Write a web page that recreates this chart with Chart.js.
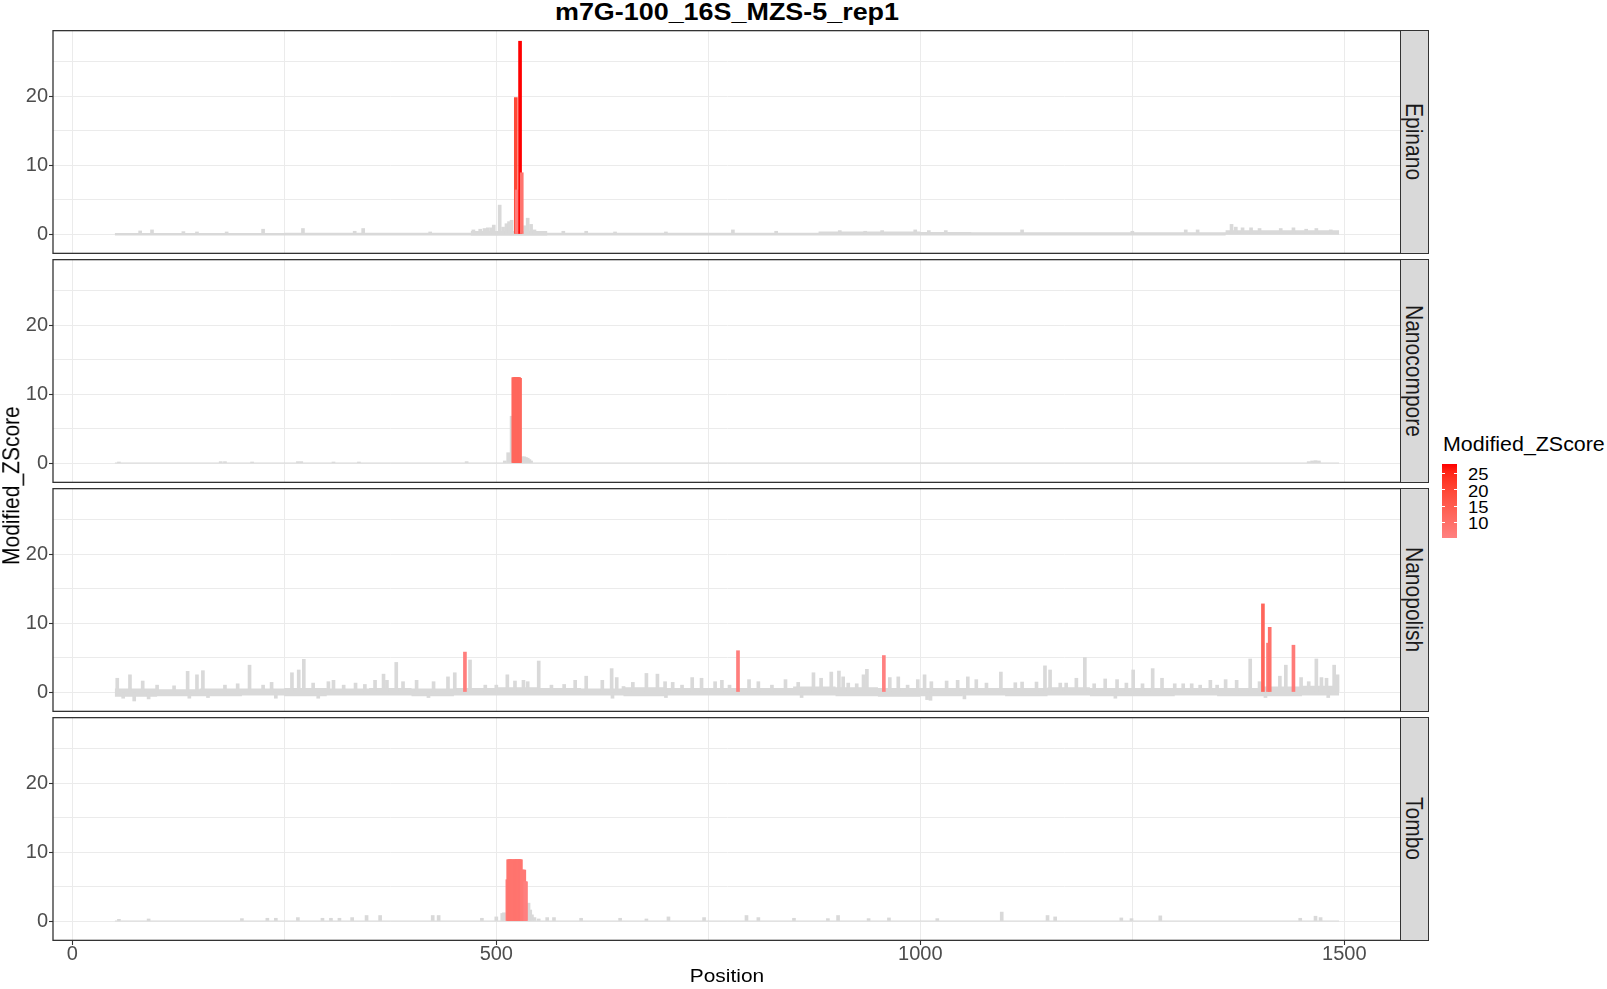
<!DOCTYPE html>
<html><head><meta charset="utf-8">
<script src="https://cdn.jsdelivr.net/npm/chart.js@4.4.1/dist/chart.umd.min.js"></script>
<style>
html,body{margin:0;padding:0;background:#fff;}
body{width:1607px;height:989px;position:relative;overflow:hidden;font-family:"Liberation Sans",Arial,sans-serif;}
canvas{position:absolute;left:0;}
.strip{position:absolute;left:1400px;width:28.5px;background:#d9d9d9;border:1.3px solid #333;box-sizing:border-box;display:flex;align-items:center;justify-content:center;}
.strip span{writing-mode:vertical-rl;font-size:21px;color:#1a1a1a;transform:scaleX(1.1);white-space:nowrap;}
.txt{position:absolute;white-space:nowrap;line-height:1;}
</style></head><body>
<script>
// ---------------- data ----------------
const panelNames = ['Epinano', 'Nanocompore', 'Nanopolish', 'Tombo'];
const xTickLabels = [0, 500, 1000, 1500];
const yTickLabels = [0, 10, 20];
const legendTicks = [10, 15, 20, 25];

// Epinano
const epiBandX  = [50, 250, 470, 560, 880, 1000, 1060, 1360, 1494];
const epiBandHi = [0.15, 0.2, 0.45, 0.2, 0.35, 0.3, 0.25, 0.55];
const epiBandLo = [-0.2, -0.2, -0.25, -0.2, -0.2, -0.2, -0.2, -0.1];
const epiGrayPos = [80, 94, 131, 147, 182, 225, 272, 333, 343, 422,
  473, 481, 486, 490, 494, 497, 504, 508, 512, 515,
  518, 534, 537, 541, 545, 579, 606, 640, 700, 779,
  830, 905, 935, 955, 994, 1010, 1030, 1120, 1250, 1313,
  1327, 1367, 1372, 1380, 1390, 1400, 1425, 1440, 1455, 1467, 1484];
const epiGrayVal = [0.45, 0.6, 0.35, 0.3, 0.3, 0.7, 0.8, 0.4, 0.8, 0.3,
  0.6, 0.7, 0.8, 0.9, 0.9, 1.3, 4.2, 1.0, 1.5, 1.8,
  2.0, 1.2, 2.3, 1.4, 0.6, 0.4, 0.4, 0.3, 0.3, 0.6,
  0.4, 0.5, 0.4, 0.5, 0.6, 0.5, 0.5, 0.6, 0.4, 0.6,
  0.6, 1.4, 1.0, 0.9, 0.9, 0.8, 0.8, 0.9, 0.7, 0.8, 0.6];
const epiSigPos = [523, 524, 528, 530];
const epiSigVal = [19.8, 6.4, 28.0, 8.9];

// Nanocompore
const ncBandX  = [50, 1494];
const ncBandHi = [0.08];
const ncBandLo = [-0.08];
const ncGrayPos = [55, 175, 180, 212, 266, 270, 308, 338, 465, 510,
  514, 518, 531, 533, 535, 537, 539, 541, 1458, 1462, 1466, 1470];
const ncGrayVal = [0.15, 0.2, 0.2, 0.15, 0.2, 0.2, 0.15, 0.15, 0.2, 0.3,
  1.5, 6.8, 0.9, 0.9, 0.8, 0.7, 0.5, 0.3, 0.2, 0.3, 0.35, 0.3];
const ncSigPos = [520, 521, 522, 523, 524, 525, 526, 527, 528];
const ncSigVal = [12.4, 12.4, 12.4, 12.4, 12.4, 12.4, 12.4, 12.4, 12.3];

// Nanopolish
const npBandX = [50, 100, 150, 200, 250, 300, 350, 400, 450, 500, 550, 600, 650, 700, 750,
  800, 850, 900, 950, 1000, 1050, 1100, 1150, 1200, 1250, 1300, 1350, 1400, 1450, 1494];
const npBandHi = [0.5, 0.4, 0.5, 0.5, 0.6, 0.5, 0.6, 0.5, 0.6, 0.7, 0.6, 0.5, 0.7, 0.6, 0.6,
  0.6, 0.8, 0.7, 0.6, 0.6, 0.6, 0.6, 0.7, 0.6, 0.6, 0.6, 0.6, 0.8, 0.9];
const npBandLo = [-0.7, -0.6, -0.6, -0.5, -0.6, -0.5, -0.5, -0.6, -0.5, -0.5, -0.5, -0.5, -0.6, -0.5, -0.5,
  -0.5, -0.5, -0.6, -0.7, -0.6, -0.5, -0.6, -0.5, -0.6, -0.6, -0.5, -0.6, -0.6, -0.5];
const npGrayPos = [53, 60, 68, 73, 83, 90, 100, 120, 136, 138,
  147, 154, 160, 180, 195, 209, 225, 235, 240, 259,
  267, 273, 284, 290, 302, 308, 320, 334, 345, 357,
  367, 371, 382, 390, 406, 420, 426, 443, 451, 469,
  487, 500, 513, 522, 532, 537, 550, 565, 580, 593,
  606, 625, 636, 637, 642, 650, 661, 677, 690, 699,
  700, 708, 719, 731, 742, 758, 766, 775, 798, 809,
  825, 841, 856, 860, 874, 883, 895, 904, 909, 915,
  925, 933, 937, 964, 974, 985, 997, 1005, 1008, 1012,
  1013, 1031, 1044, 1052, 1056, 1066, 1078, 1095, 1112, 1120,
  1137, 1147, 1153, 1165, 1172, 1184, 1194, 1205, 1218, 1230,
  1232, 1243, 1251, 1262, 1274, 1285, 1300, 1310, 1320, 1330,
  1342, 1350, 1360, 1373, 1389, 1400, 1407, 1424, 1431, 1449,
  1458, 1467, 1473, 1479, 1481, 1488, 1492];
const npGrayVal = [2.0, -0.9, 2.5, -1.3, 1.6, -1.0, 1.0, 0.9, 3.0, -0.9,
  2.5, 3.1, -0.8, 1.0, 1.2, 3.9, 1.0, 1.4, -0.9, 2.8,
  3.2, 4.75, 1.3, -0.9, 1.5, 1.7, 1.0, 1.3, 1.1, 1.7,
  2.6, 1.7, 4.3, 1.5, 1.7, -0.8, 1.5, 2.2, 2.8, 4.65,
  1.0, 1.0, 2.5, 1.6, 1.7, 1.5, 4.5, 1.0, 1.1, 1.7,
  2.3, 1.7, 3.4, -0.9, 2.1, 0.8, 1.4, 2.7, 2.6, 1.5,
  -0.8, 1.4, 1.0, 2.1, 2.0, 1.5, 1.7, 1.0, 1.8, 1.5,
  1.0, 1.8, 1.4, -0.8, 2.8, 2.0, 2.9, 3.05, 2.2, 1.3,
  1.2, 2.5, 3.3, 2.1, 2.2, 1.0, 1.8, 2.5, -1.1, -1.2,
  1.5, 1.6, 1.7, -1.0, 2.2, 1.8, 1.3, 2.9, 1.35, 1.45,
  1.45, 3.8, 3.2, 1.3, 1.3, 2.0, 5.0, 1.2, 1.9, -0.9,
  1.8, 1.3, 3.2, 1.2, 3.4, 2.0, 1.2, 1.2, 1.2, 1.0,
  1.7, 1.0, 1.8, 1.7, 4.8, 1.5, -0.8, 2.3, 3.9, 2.1,
  1.5, 4.8, 2.1, 2.0, -0.8, 3.9, 2.5];
const npSigPos = [463, 785, 957, 1404, 1410, 1412, 1440];
const npSigVal = [5.8, 6.0, 5.3, 12.8, 7.1, 9.4, 6.8];

// Tombo
const tbBandX  = [50, 1494];
const tbBandHi = [0.08];
const tbBandLo = [-0.08];
const tbGrayPos = [55, 90, 200, 230, 240, 266, 295, 305, 315, 330,
  347, 363, 425, 432, 483, 500, 507, 509, 538, 540,
  542, 545, 550, 560, 568, 600, 646, 677, 703, 745,
  795, 809, 851, 891, 903, 939, 963, 1020, 1096, 1150,
  1159, 1237, 1249, 1283, 1448, 1466, 1472];
const tbGrayVal = [0.25, 0.3, 0.35, 0.4, 0.4, 0.5, 0.4, 0.4, 0.4, 0.5,
  0.8, 0.8, 0.8, 0.8, 0.4, 0.6, 1.1, 1.2, 2.6, 1.6,
  0.9, 0.5, 0.3, 0.5, 0.5, 0.4, 0.4, 0.3, 0.6, 0.5,
  0.8, 0.5, 0.4, 0.35, 0.8, 0.35, 0.45, 0.35, 1.3, 0.8,
  0.6, 0.45, 0.35, 0.75, 0.4, 0.7, 0.5];
const tbSigPos = [513, 514, 515, 516, 517, 518, 519, 520, 521, 522, 523, 524,
  525, 526, 527, 528, 529, 530, 531, 532, 533, 534, 535];
const tbSigVal = [6.0, 8.9, 8.9, 8.9, 8.9, 8.9, 8.9, 8.5, 8.9, 8.9, 8.9, 8.9,
  8.9, 8.9, 8.9, 8.9, 8.9, 7.4, 7.4, 7.4, 7.4, 5.7, 5.7];

// ---------------- layout / style ----------------
const GRAY = '#d9d9d9';
const LOW_COL = [255, 128, 128], HIGH_COL = [255, 0, 0];
const PANEL_TOPS = [30, 259, 488, 717], PANEL_H = 224, CANVAS_W = 1402, AXIS_W = 53;
const X_MIN = -22.76, X_MAX = 1568.0, Y_MIN = -2.9, Y_MAX = 29.63;

const allSig = [].concat(epiSigVal, ncSigVal, npSigVal, tbSigVal);
const SIG_MIN = Math.min(...allSig), SIG_MAX = Math.max(...allSig);

function toLin(c){c/=255;return c<=0.04045?c/12.92:Math.pow((c+0.055)/1.055,2.4);}
function toS(c){const v=c<=0.0031308?12.92*c:1.055*Math.pow(c,1/2.4)-0.055;return Math.round(Math.max(0,Math.min(1,v))*255);}
function rgb2lab(c){const R=toLin(c[0]),G=toLin(c[1]),B=toLin(c[2]);
  const X=(0.4124*R+0.3576*G+0.1805*B)/0.95047,Y=0.2126*R+0.7152*G+0.0722*B,Z=(0.0193*R+0.1192*G+0.9505*B)/1.08883;
  const f=t=>t>0.008856?Math.cbrt(t):7.787*t+16/116; const fx=f(X),fy=f(Y),fz=f(Z);
  return [116*fy-16,500*(fx-fy),200*(fy-fz)];}
function lab2rgb(l){const fy=(l[0]+16)/116,fx=fy+l[1]/500,fz=fy-l[2]/200;
  const fi=t=>t>0.206893?t*t*t:(t-16/116)/7.787;
  const X=fi(fx)*0.95047,Y=fi(fy),Z=fi(fz)*1.08883;
  return [toS(3.2406*X-1.5372*Y-0.4986*Z),toS(-0.9689*X+1.8758*Y+0.0415*Z),toS(0.0557*X-0.2040*Y+1.0570*Z)];}
const LAB_LO = rgb2lab(LOW_COL), LAB_HI = rgb2lab(HIGH_COL);
function colorFor(v){let t=(v-SIG_MIN)/(SIG_MAX-SIG_MIN);t=Math.max(0,Math.min(1,t));
  const c=lab2rgb([0,1,2].map(i=>LAB_LO[i]+(LAB_HI[i]-LAB_LO[i])*t));return `rgb(${c[0]},${c[1]},${c[2]})`;}

const framePlugin = {id:'frame', afterDraw(chart){const {ctx,chartArea:a}=chart;ctx.save();
  ctx.strokeStyle='#333333';ctx.lineWidth=1.3;
  ctx.strokeRect(a.left,a.top+0.65,a.right-a.left-0.65,a.bottom-a.top-1.3);ctx.restore();}};

function stepBand(X, V){const pts=[];for(let i=0;i<V.length;i++){pts.push({x:X[i],y:V[i]},{x:X[i+1],y:V[i]});}return pts;}
function pts(P, V){const n=Math.min(P.length,V.length);const r=[];for(let i=0;i<n;i++)r.push({x:P[i],y:V[i]});return r;}

const panels = [
  [epiBandX, epiBandHi, epiBandLo, epiGrayPos, epiGrayVal, epiSigPos, epiSigVal],
  [ncBandX, ncBandHi, ncBandLo, ncGrayPos, ncGrayVal, ncSigPos, ncSigVal],
  [npBandX, npBandHi, npBandLo, npGrayPos, npGrayVal, npSigPos, npSigVal],
  [tbBandX, tbBandHi, tbBandLo, tbGrayPos, tbGrayVal, tbSigPos, tbSigVal]
];
const FONT = 'Liberation Sans';

panels.forEach((p, i) => {
  const showX = i === panels.length - 1;
  const cv = document.createElement('canvas');
  cv.width = CANVAS_W; cv.height = PANEL_H + (showX ? 45 : 0);
  cv.style.top = PANEL_TOPS[i] + 'px';
  document.body.appendChild(cv);
  const sig = pts(p[5], p[6]);
  new Chart(cv, {
    type: 'bar',
    data: { datasets: [
      {type:'line', data: stepBand(p[0], p[1]), fill:'origin', backgroundColor:GRAY, borderColor:'rgba(0,0,0,0)', borderWidth:0, pointRadius:0, tension:0, order:4},
      {type:'line', data: stepBand(p[0], p[2]), fill:'origin', backgroundColor:GRAY, borderColor:'rgba(0,0,0,0)', borderWidth:0, pointRadius:0, tension:0, order:3},
      {type:'bar', data: pts(p[3], p[4]), backgroundColor:GRAY, barThickness:3, grouped:false, borderWidth:0, order:2},
      {type:'bar', data: sig, backgroundColor: sig.map(d => colorFor(d.y)), barThickness:3, grouped:false, borderWidth:0, order:1}
    ]},
    options: {
      responsive:false, animation:false, devicePixelRatio:1, events:[],
      layout:{padding:0},
      plugins:{legend:{display:false}, tooltip:{enabled:false}},
      scales:{
        x:{type:'linear', min:X_MIN, max:X_MAX, offset:false,
          grid:{offset:false, color:'#ebebeb', lineWidth:1, drawTicks:showX, tickLength:4, tickWidth:1.1,
                tickColor: c => (c.tick && xTickLabels.includes(c.tick.value)) ? '#333333' : 'rgba(0,0,0,0)'},
          border:{display:false},
          ticks:{display:showX, stepSize:250, includeBounds:false, autoSkip:false, maxRotation:0, padding:-3,
                 color:'#4d4d4d', font:{family:FONT, size:20},
                 callback: v => xTickLabels.includes(v) ? String(v) : ''},
          afterFit: s => { s.height = showX ? 45 : 0; s.paddingLeft = 0; s.paddingRight = 0; }
        },
        y:{type:'linear', min:Y_MIN, max:Y_MAX,
          grid:{color:'#ebebeb', lineWidth:1, drawTicks:true, tickLength:4, tickWidth:1.1,
                tickColor: c => (c.tick && yTickLabels.includes(c.tick.value)) ? '#333333' : 'rgba(0,0,0,0)'},
          border:{display:false},
          ticks:{stepSize:5, includeBounds:false, padding:1, color:'#4d4d4d', font:{family:FONT, size:20},
                 callback: v => yTickLabels.includes(v) ? String(v) : ''},
          afterFit: s => { s.width = AXIS_W; s.paddingTop = 0; s.paddingBottom = 0; }
        }
      }
    },
    plugins:[framePlugin]
  });
  const st = document.createElement('div');
  st.className = 'strip';
  st.style.top = PANEL_TOPS[i] + 'px'; st.style.height = PANEL_H + 'px';
  st.innerHTML = '<span>' + panelNames[i] + '</span>';
  document.body.appendChild(st);
});

// titles
function addText(txt, css){const d=document.createElement('div');d.className='txt';d.textContent=txt;Object.assign(d.style,css);document.body.appendChild(d);return d;}
addText('m7G-100_16S_MZS-5_rep1', {left:'0px', width:'1454px', textAlign:'center', top:'1px', fontSize:'23px', fontWeight:'bold', color:'#000', transform:'scaleX(1.17)'});
addText('Position', {left:'0px', width:'1454px', textAlign:'center', top:'966px', fontSize:'19px', color:'#000', transform:'scaleX(1.1)'});
const yt = addText('Modified_ZScore', {left:'1px', top:'30px', height:'911px', width:'21px', display:'flex', alignItems:'center', justifyContent:'center', fontSize:'21px', color:'#000'});
yt.style.writingMode = 'vertical-rl'; yt.style.transform = 'rotate(180deg) scaleX(1.1)';

// legend
const LEG_LEFT = 1442.3, LEG_TOP = 464, LEG_W = 15, LEG_H = 73.7;
addText('Modified_ZScore', {left:'1442.7px', top:'434px', fontSize:'20px', color:'#000', transform:'scaleX(1.07)', transformOrigin:'left center'});
const bar = document.createElement('div');
const stops = [];
for (let k = 0; k <= 10; k++) { const v = SIG_MIN + (SIG_MAX - SIG_MIN) * k / 10; stops.push(colorFor(v) + ' ' + (k * 10) + '%'); }
Object.assign(bar.style, {position:'absolute', left:LEG_LEFT+'px', top:LEG_TOP+'px', width:LEG_W+'px', height:LEG_H+'px',
  background:'linear-gradient(to top,' + stops.join(',') + ')'});
document.body.appendChild(bar);
legendTicks.forEach(v => {
  const y = LEG_TOP + (SIG_MAX - v) / (SIG_MAX - SIG_MIN) * LEG_H;
  [0, LEG_W - 3].forEach(dx => {
    const t = document.createElement('div');
    Object.assign(t.style, {position:'absolute', left:(LEG_LEFT + dx)+'px', top:(y - 0.5)+'px', width:'3px', height:'1px', background:'#fff'});
    document.body.appendChild(t);
  });
  addText(String(v), {left:'1468.3px', top:(y + 1.5 - 7.8)+'px', fontSize:'16px', color:'#000', transform:'scaleX(1.15)', transformOrigin:'left center'});
});
</script>
</body></html>
